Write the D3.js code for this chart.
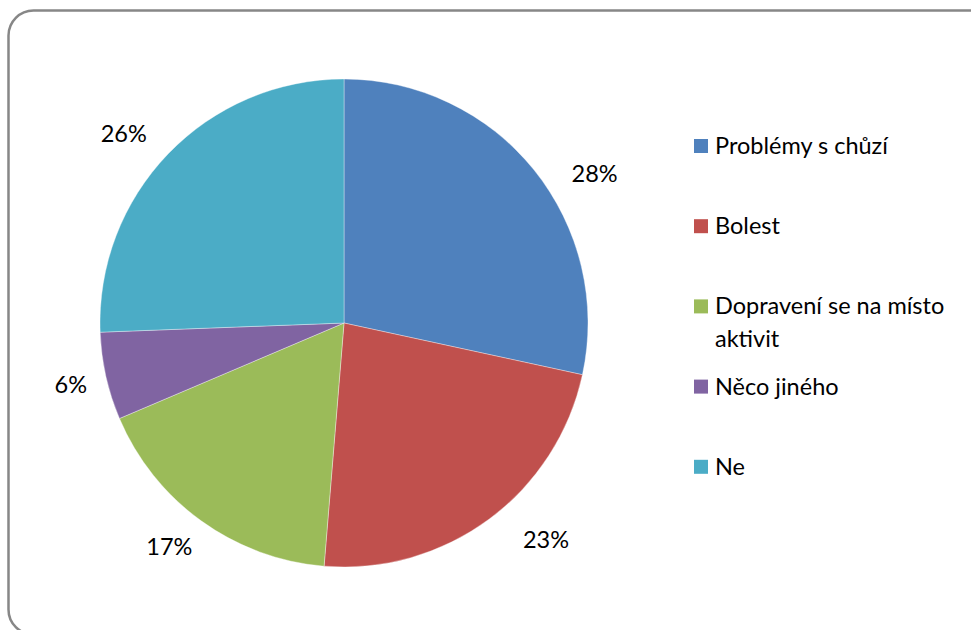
<!DOCTYPE html>
<html>
<head>
<meta charset="utf-8">
<style>
body { margin: 0; background: #fff; }
svg { display: block; }
text { font-family: Lato, "Open Sans", sans-serif; fill: #000; }
</style>
</head>
<body>
<svg id="chart" width="971" height="630"></svg>
<script src="https://cdnjs.cloudflare.com/ajax/libs/d3/7.8.5/d3.min.js"></script>
<script>
// data (percent of answers)
var categories = ['Problémy s chůzí', 'Bolest', 'Dopravení se na místo aktivit', 'Něco jiného', 'Ne']
var values = [28.4, 22.9, 17.3, 5.8, 25.6]
var pctLabels = ['28%', '23%', '17%', '6%', '26%']
var legendLines = [['Problémy s chůzí'], ['Bolest'], ['Dopravení se na místo', 'aktivit'], ['Něco jiného'], ['Ne']]
var colors = ['#4F81BD', '#C0504D', '#9BBB59', '#8064A2', '#4BACC6']

var width = 971, height = 630
var cx = 344, cy = 323, radius = 244
// excel's "best fit" does not sit labels exactly on the mid angle
var labelShift = [8, -6.5, 2.3, 0, -3.1]   // degrees
var labelDist = [292, 296, 283, 280, 291]

var svg = d3.select('#chart')

// outer frame, bottom and right run off the picture
svg.append('rect')
   .attr('x', 8.5).attr('y', 10.5)
   .attr('width', 985).attr('height', 624)
   .attr('rx', 25).attr('ry', 25)
   .attr('fill', 'none')
   .attr('stroke', '#878787')
   .attr('stroke-width', 2.5)

var pie = d3.pie().sort(null).value(d => d)
var arcs = pie(values)
var arc = d3.arc().innerRadius(0).outerRadius(radius)

var g = svg.append('g').attr('transform', 'translate(' + cx + ',' + cy + ')')

g.selectAll('path.slice')
  .data(arcs).enter()
  .append('path')
  .attr('class', 'slice')
  .attr('d', arc)
  .attr('fill', (d, i) => colors[i])
  .attr('stroke', 'rgba(255,255,255,0.45)')
  .attr('stroke-width', 0.8)

g.selectAll('text.pct')
  .data(arcs).enter()
  .append('text')
  .attr('class', 'pct')
  .attr('x', (d, i) => {
      var a = ((d.startAngle + d.endAngle) / 2) + labelShift[i] * Math.PI / 180
      return Math.sin(a) * labelDist[i]
  })
  .attr('y', (d, i) => {
      var a = ((d.startAngle + d.endAngle) / 2) + labelShift[i] * Math.PI / 180
      return -Math.cos(a) * labelDist[i]
  })
  .attr('text-anchor', 'middle')
  .attr('dominant-baseline', 'central')
  .attr('font-size', 23.5)
  .text((d, i) => pctLabels[i])

// legend
var legend = svg.append('g').attr('transform', 'translate(694,139)')
var item = legend.selectAll('g.item')
  .data(categories).enter()
  .append('g')
  .attr('class', 'item')
  .attr('transform', (d, i) => 'translate(0,' + (i * 80.2) + ')')

item.append('rect')
  .attr('width', 14).attr('height', 14)
  .attr('fill', (d, i) => colors[i])

item.append('text')
  .attr('x', 21)
  .attr('y', 15)
  .attr('font-size', 23.5)
  .selectAll('tspan')
  .data((d, i) => legendLines[i]).enter()
  .append('tspan')
  .attr('x', 21)
  .attr('dy', (d, j) => j === 0 ? 0 : 33)
  .text(d => d)
</script>
</body>
</html>
